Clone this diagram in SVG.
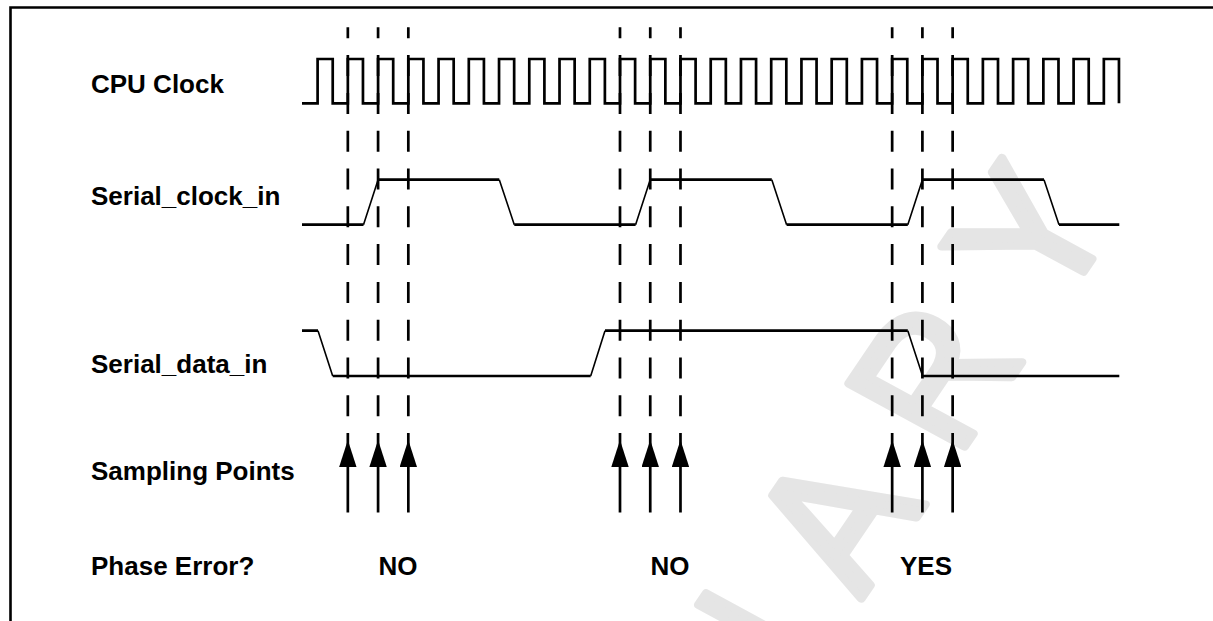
<svg xmlns="http://www.w3.org/2000/svg" width="1213" height="621" viewBox="0 0 1213 621">
<style>
.lbl{font-family:"Liberation Sans",Arial,Helvetica,sans-serif;font-weight:bold;font-size:26px;fill:#000}
.wave{fill:none;stroke:#000;stroke-width:2.7;stroke-linejoin:miter;stroke-linecap:butt}
.slant{fill:none;stroke:#000;stroke-width:1.6;stroke-linecap:butt}
.dash{stroke:#000;stroke-width:2.7;stroke-dasharray:21 16.8;stroke-dashoffset:10}
.arrow{stroke:#000;stroke-width:2.7;marker-end:url(#head)}
.wm{font-family:"Liberation Sans",Arial,Helvetica,sans-serif;font-size:100px;fill:#e5e5e5;stroke:#e5e5e5;stroke-width:4.5;stroke-linejoin:round;letter-spacing:31.8px}
</style>
<defs>
<marker id="head" viewBox="0 0 27 17.4" refX="0" refY="8.7" markerWidth="27" markerHeight="17.4" markerUnits="userSpaceOnUse" orient="auto">
<path d="M0,0 L27,8.7 L0,17.4 Z" fill="#000"/>
</marker>
</defs>
<rect width="1213" height="621" fill="#fff"/>
<g id="watermark">
<text class="wm" x="-726.7" y="0" transform="matrix(0.969 -1.427 1.685 0.916 861.1 599)">PRELIMINARY</text>
</g>
<path id="frame" d="M10.5,621 V7.5 H1213" fill="none" stroke="#000" stroke-width="2.6"/>
<g id="cpu-clock">
<text class="lbl" x="91" y="93">CPU Clock</text>
<path class="wave" d="M302,103.3 H317.6 V59 H332.72 V103.3 H347.84 V59 H362.96 V103.3 H378.08 V59 H393.2 V103.3 H408.32 V59 H423.44 V103.3 H438.56 V59 H453.68 V103.3 H468.8 V59 H483.92 V103.3 H499.04 V59 H514.16 V103.3 H529.28 V59 H544.4 V103.3 H559.52 V59 H574.64 V103.3 H589.76 V59 H604.88 V103.3 H620 V59 H635.12 V103.3 H650.24 V59 H665.36 V103.3 H680.48 V59 H695.6 V103.3 H710.72 V59 H725.84 V103.3 H740.96 V59 H756.08 V103.3 H771.2 V59 H786.32 V103.3 H801.44 V59 H816.56 V103.3 H831.68 V59 H846.8 V103.3 H861.92 V59 H877.04 V103.3 H892.16 V59 H907.28 V103.3 H922.4 V59 H937.52 V103.3 H952.64 V59 H967.76 V103.3 H982.88 V59 H998 V103.3 H1013.12 V59 H1028.24 V103.3 H1043.36 V59 H1058.48 V103.3 H1073.6 V59 H1088.72 V103.3 H1103.84 V59 H1118.96 V103.3"/>
</g>
<g id="serial-clock-in">
<text class="lbl" x="91" y="204.5">Serial_clock_in</text>
<path class="wave" d="M302,224.7 H363.5 M378.1,179.7 H499.3 M514.3,224.7 H635.6 M650.2,179.7 H771.8 M786.6,224.7 H907.8 M922.4,179.7 H1044 M1059,224.7 H1119.3"/>
<path class="slant" d="M363.5,224.7 L378.1,179.7 M499.3,179.7 L514.3,224.7 M635.6,224.7 L650.2,179.7 M771.8,179.7 L786.6,224.7 M907.8,224.7 L922.4,179.7 M1044,179.7 L1059,224.7"/>
</g>
<g id="serial-data-in">
<text class="lbl" x="91" y="372.5">Serial_data_in</text>
<path class="wave" d="M302,330.7 H318 M332.7,376 H590.7 M605,330.7 H907.8 M922.6,376 H1119.3"/>
<path class="slant" d="M318,330.7 L332.7,376 M590.7,376 L605,330.7 M907.8,330.7 L922.6,376"/>
</g>
<g id="connectors">
<line class="dash" x1="347.84" y1="27.3" x2="347.84" y2="450"/>
<line class="dash" x1="378.08" y1="27.3" x2="378.08" y2="450"/>
<line class="dash" x1="408.32" y1="27.3" x2="408.32" y2="450"/>
<line class="dash" x1="620" y1="27.3" x2="620" y2="450"/>
<line class="dash" x1="650.24" y1="27.3" x2="650.24" y2="450"/>
<line class="dash" x1="680.48" y1="27.3" x2="680.48" y2="450"/>
<line class="dash" x1="892.16" y1="27.3" x2="892.16" y2="450"/>
<line class="dash" x1="922.4" y1="27.3" x2="922.4" y2="450"/>
<line class="dash" x1="952.64" y1="27.3" x2="952.64" y2="450"/>
</g>
<g id="sampling-points">
<text class="lbl" x="91" y="479.5">Sampling Points</text>
<line class="arrow" x1="347.84" y1="512.5" x2="347.84" y2="467"/>
<line class="arrow" x1="378.08" y1="512.5" x2="378.08" y2="467"/>
<line class="arrow" x1="408.32" y1="512.5" x2="408.32" y2="467"/>
<line class="arrow" x1="620" y1="512.5" x2="620" y2="467"/>
<line class="arrow" x1="650.24" y1="512.5" x2="650.24" y2="467"/>
<line class="arrow" x1="680.48" y1="512.5" x2="680.48" y2="467"/>
<line class="arrow" x1="892.16" y1="512.5" x2="892.16" y2="467"/>
<line class="arrow" x1="922.4" y1="512.5" x2="922.4" y2="467"/>
<line class="arrow" x1="952.64" y1="512.5" x2="952.64" y2="467"/>
</g>
<g id="phase-error">
<text class="lbl" x="91" y="575">Phase Error?</text>
<text class="lbl" x="398" y="575" text-anchor="middle">NO</text>
<text class="lbl" x="670" y="575" text-anchor="middle">NO</text>
<text class="lbl" x="926" y="575" text-anchor="middle">YES</text>
</g>
</svg>
